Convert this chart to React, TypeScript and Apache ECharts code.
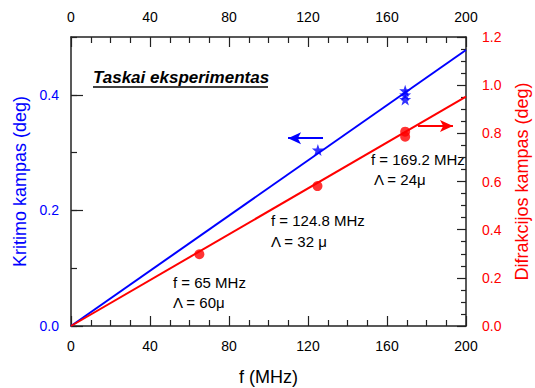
import React, { useEffect, useRef } from "react";
import * as echarts from "echarts";

// Frequency (MHz) axis
const xTicks = [0, 40, 80, 120, 160, 200];
// Left axis labelled ticks
const leftTicks = [0, 0.2, 0.4];

// Incidence angle (deg) – experimental points (stars, left axis)
const incidencePoints: [number, number][] = [
  [125, 0.3045],
  [169.2, 0.407],
  [169.2, 0.4],
  [169.2, 0.392],
];
// Incidence angle fitted line
const incidenceLine: [number, number][] = [
  [0, 0],
  [200, 0.4775],
];

// Diffraction angle (deg) – experimental points (dots, right axis)
const diffractionPoints: [number, number][] = [
  [65, 0.298],
  [124.8, 0.581],
  [169.2, 0.807],
  [169.2, 0.786],
];
// Diffraction angle fitted line
const diffractionLine: [number, number][] = [
  [0, 0],
  [200, 0.952],
];

// Arrow annotations (data coords)
const blueArrow: [number, number][] = [
  [127.6, 0.325],
  [109.9, 0.325],
];
const redArrow: [number, number][] = [
  [175.7, 0.83],
  [193.4, 0.83],
];

const annotations = [
  { text: "f = 169.2 MHz", x: 371, y: 159 },
  { text: "Λ = 24μ", x: 374, y: 179 },
  { text: "f = 124.8 MHz", x: 271, y: 220 },
  { text: "Λ = 32 μ", x: 271, y: 241 },
  { text: "f = 65 MHz", x: 173, y: 282 },
  { text: "Λ = 60μ", x: 173, y: 302 },
];

const FONT = "Liberation Sans, Arial, sans-serif";
const STAR =
  "path://M10 0 L12.35 6.76 L19.51 6.91 L13.8 11.24 L15.88 18.09 L10 14 L4.12 18.09 L6.2 11.24 L0.49 6.91 L7.65 6.76 Z";

export default function App() {
  const ref = useRef<HTMLDivElement>(null);
  useEffect(() => {
    if (!ref.current) return;
    const chart = echarts.init(ref.current, null, { renderer: "svg" });
    const axisLine = { show: true, onZero: false, lineStyle: { color: "#222", width: 1.5 } };
    const tickStyle = { color: "#222", width: 1.2 };
    const gridRect = {
      left: 71,
      right: 69,
      top: 37,
      bottom: 62,
      containLabel: false,
      outerBoundsMode: "none",
    };
    const xAxisCommon = {
      type: "value" as const,
      gridIndex: 0,
      min: xTicks[0],
      max: xTicks[xTicks.length - 1],
      interval: 40,
      axisLine,
      axisTick: { show: true, inside: true, length: 10, lineStyle: tickStyle },
      minorTick: { show: true, splitNumber: 4, length: 6, lineStyle: tickStyle },
      splitLine: { show: false },
      axisLabel: { color: "#000", fontSize: 14, fontFamily: FONT, margin: 13 },
    };
    chart.setOption({
      animation: false,
      grid: [gridRect, { ...gridRect }],
      xAxis: [
        {
          ...xAxisCommon,
          position: "bottom",
          name: "f (MHz)",
          nameLocation: "middle",
          nameGap: 42,
          nameTextStyle: { color: "#000", fontSize: 18, fontFamily: FONT },
        },
        { ...xAxisCommon, position: "top" },
        {
          type: "value",
          gridIndex: 1,
          min: xTicks[0],
          max: xTicks[xTicks.length - 1],
          axisLine: { show: false, onZero: false },
          show: false,
        },
      ],
      yAxis: [
        {
          type: "value",
          gridIndex: 0,
          position: "left",
          min: 0,
          max: 0.5,
          interval: 0.2,
          axisLine,
          axisTick: {
            show: true,
            inside: true,
            length: 12,
            customValues: leftTicks,
            lineStyle: tickStyle,
          },
          minorTick: { show: false },
          splitLine: { show: false },
          axisLabel: {
            color: "#0000ff",
            fontSize: 14,
            fontFamily: FONT,
            margin: 12,
            customValues: leftTicks,
            formatter: (v: number) => v.toFixed(1),
          },
          name: "Kritimo kampas (deg)",
          nameLocation: "middle",
          nameRotate: 90,
          nameGap: 42,
          nameTextStyle: { color: "#0000ff", fontSize: 18, fontFamily: FONT },
        },
        {
          type: "value",
          gridIndex: 0,
          position: "right",
          min: 0,
          max: 1.2,
          interval: 0.2,
          axisLine,
          axisTick: { show: true, inside: true, length: 9, lineStyle: tickStyle },
          minorTick: { show: true, splitNumber: 4, length: 5, lineStyle: tickStyle },
          splitLine: { show: false },
          axisLabel: {
            color: "#ff0000",
            fontSize: 14,
            fontFamily: FONT,
            margin: 16,
            formatter: (v: number) => v.toFixed(1),
          },
          name: "Difrakcijos kampas (deg)",
          nameLocation: "middle",
          nameRotate: 90,
          nameGap: 47,
          nameTextStyle: { color: "#ff0000", fontSize: 18, fontFamily: FONT },
        },
        {
          // minor ticks of the left axis (every 0.1)
          type: "value",
          gridIndex: 1,
          position: "left",
          min: 0,
          max: 0.5,
          interval: 0.1,
          axisLine: { show: false, onZero: false },
          axisTick: { show: true, inside: true, length: 6, lineStyle: tickStyle },
          axisLabel: { show: false },
          splitLine: { show: false },
        },
      ],
      series: [
        {
          type: "line",
          xAxisIndex: 0,
          yAxisIndex: 0,
          data: incidenceLine,
          showSymbol: false,
          lineStyle: { color: "#0000ff", width: 2 },
          silent: true,
          markLine: {
            silent: true,
            symbol: ["none", "arrow"],
            symbolSize: [9, 13],
            label: { show: false },
            lineStyle: { color: "#0000ff", width: 2, type: "solid" },
            data: [[{ coord: blueArrow[0] }, { coord: blueArrow[1] }]],
          },
        },
        {
          type: "line",
          xAxisIndex: 0,
          yAxisIndex: 1,
          data: diffractionLine,
          showSymbol: false,
          lineStyle: { color: "#ff0000", width: 2 },
          silent: true,
          markLine: {
            silent: true,
            symbol: ["none", "arrow"],
            symbolSize: [9, 13],
            label: { show: false },
            lineStyle: { color: "#ff0000", width: 2, type: "solid" },
            data: [[{ coord: redArrow[0] }, { coord: redArrow[1] }]],
          },
        },
        {
          type: "scatter",
          xAxisIndex: 0,
          yAxisIndex: 0,
          data: incidencePoints,
          symbol: STAR,
          symbolSize: 12,
          itemStyle: { color: "#0000ff" },
          silent: true,
        },
        {
          type: "scatter",
          xAxisIndex: 0,
          yAxisIndex: 1,
          data: diffractionPoints,
          symbol: "circle",
          symbolSize: 10,
          itemStyle: { color: "#ff0000" },
          silent: true,
        },
        {
          // empty series to activate the tick-only grid
          type: "line",
          xAxisIndex: 2,
          yAxisIndex: 2,
          data: [],
          silent: true,
        },
      ],
      graphic: [
        {
          type: "text",
          left: 93,
          top: 69,
          style: {
            text: "Taskai eksperimentas",
            fill: "#000",
            font: `italic bold 17px ${FONT}`,
          },
        },
        {
          type: "line",
          shape: { x1: 93, y1: 87, x2: 268, y2: 87 },
          style: { stroke: "#000", lineWidth: 1.5 },
        },
        ...annotations.map((a) => ({
          type: "text",
          x: a.x,
          y: a.y,
          style: {
            text: a.text,
            fill: "#000",
            font: `15px ${FONT}`,
            textVerticalAlign: "middle",
            verticalAlign: "middle",
          },
        })),
      ],
    });
    return () => chart.dispose();
  }, []);
  return (
    <div
      ref={ref}
      style={{ position: "fixed", left: 0, top: 0, width: 535, height: 388, background: "#fff" }}
    />
  );
}
